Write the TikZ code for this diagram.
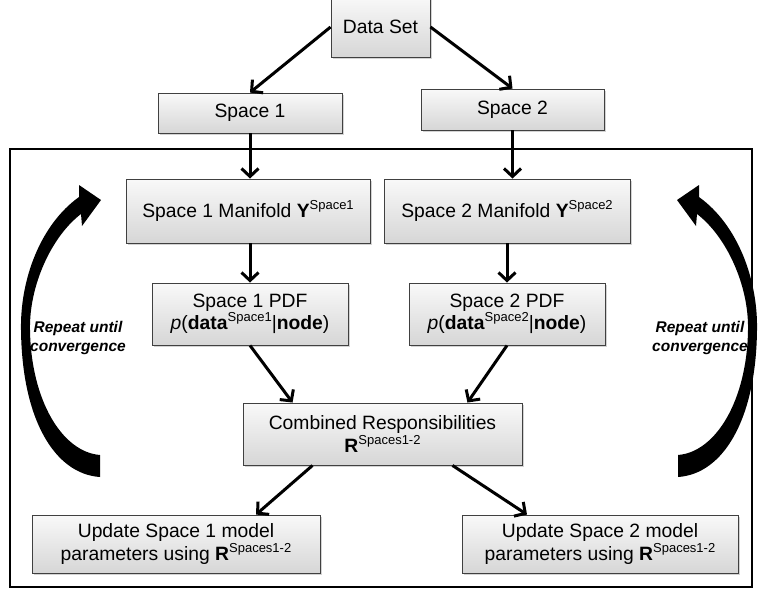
\documentclass[tikz,border=0pt]{standalone}
\usepackage{fontspec}
\setmainfont{Liberation Sans}
\usetikzlibrary{arrows.meta,shadows,calc}
\newcommand\supx[1]{\raisebox{0.42em}{\fontsize{13}{14}\selectfont #1}}
\tikzset{
  box/.style={draw=black!75, line width=0.9pt, top color=gray!5, bottom color=gray!32,
    drop shadow={shadow xshift=1.5pt, shadow yshift=-1.5pt, opacity=0.35},
    align=center, inner sep=2pt, font=\fontsize{19.3}{22.5}\selectfont},
  conn/.style={line width=3pt, -{Straight Barb[length=8pt,width=17pt]}},
  lbl/.style={align=center, font=\fontsize{15.5}{19}\selectfont\bfseries\itshape},
  bigarrow/.style={fill=black, draw=none}
}
\begin{document}
\begin{tikzpicture}[x=1pt,y=-1pt]
\useasboundingbox (0,0) rectangle (760,590);
% frame
\draw[line width=2.5pt] (10,149) rectangle (752,587);
% nodes
\node[box, minimum width=99pt, minimum height=60pt] (ds) at (380.5,27) {Data Set};
\node[box, minimum width=184pt, minimum height=40pt] (s1) at (250,113) {Space 1};
\node[box, minimum width=183pt, minimum height=41pt] (s2) at (512.5,109.5) {Space 2};
\node[box, minimum width=244pt, minimum height=64pt] (m1) at (248,211) {Space 1 Manifold \textbf{Y}\supx{Space1}};
\node[box, minimum width=246pt, minimum height=64pt] (m2) at (507,211) {Space 2 Manifold \textbf{Y}\supx{Space2}};
\node[box, minimum width=196pt, minimum height=62pt] (p1) at (250,314) {Space 1 PDF\\\textit{p}(\textbf{data}\supx{Space1}|\textbf{node})};
\node[box, minimum width=196pt, minimum height=62pt] (p2) at (507,314) {Space 2 PDF\\\textit{p}(\textbf{data}\supx{Space2}|\textbf{node})};
\node[box, minimum width=279pt, minimum height=62pt] (cr) at (382.5,434) {Combined Responsibilities\\\textbf{R}\supx{Spaces1-2}};
\node[box, minimum width=288pt, minimum height=58pt] (u1) at (176,544) {Update Space 1 model\\parameters using \textbf{R}\supx{Spaces1-2}};
\node[box, minimum width=276pt, minimum height=58pt] (u2) at (600,544) {Update Space 2 model\\parameters using \textbf{R}\supx{Spaces1-2}};
% connectors
\draw[conn] (ds.west) -- (s1.north);
\draw[conn] (ds.east) -- (s2.north);
\draw[conn] (s1.south) -- (s1.south |- m1.north);
\draw[conn] (s2.south) -- (s2.south |- m2.north);
\draw[conn] (m1.south -| p1.north) -- (p1.north);
\draw[conn] (m2.south -| p2.north) -- (p2.north);
\draw[conn] (p1.south) -- ($(cr.north west)+(50,0)$);
\draw[conn] (p2.south) -- ($(cr.north east)+(-55,0)$);
\draw[conn] ($(cr.south)+(-70,0)$) -- ($(u1.north)+(80,0)$);
\draw[conn] ($(cr.south)+(70,0)$) -- ($(u2.north)+(-73,0)$);
% curved arrows
\fill[bigarrow] (100,477) .. controls (55,474) and (22,420) .. (21,330)
  .. controls (20,280) and (40,225) .. (79,197) -- (79,185) -- (101,200) -- (82,226) -- (81,214)
  .. controls (52,236) and (29,285) .. (30,330)
  .. controls (31,400) and (62,452) .. (100,455) -- cycle;
\fill[bigarrow] (678,477) .. controls (723,474) and (756,420) .. (757,330)
  .. controls (758,280) and (738,225) .. (699,197) -- (699,185) -- (677,200) -- (696,226) -- (697,214)
  .. controls (726,236) and (749,285) .. (748,330)
  .. controls (747,400) and (716,452) .. (678,455) -- cycle;
% labels
\node[lbl] (l1) at (78,338) {Repeat until\\convergence};
\node[lbl] (l2) at (700,338) {Repeat until\\convergence};
\end{tikzpicture}
\end{document}
